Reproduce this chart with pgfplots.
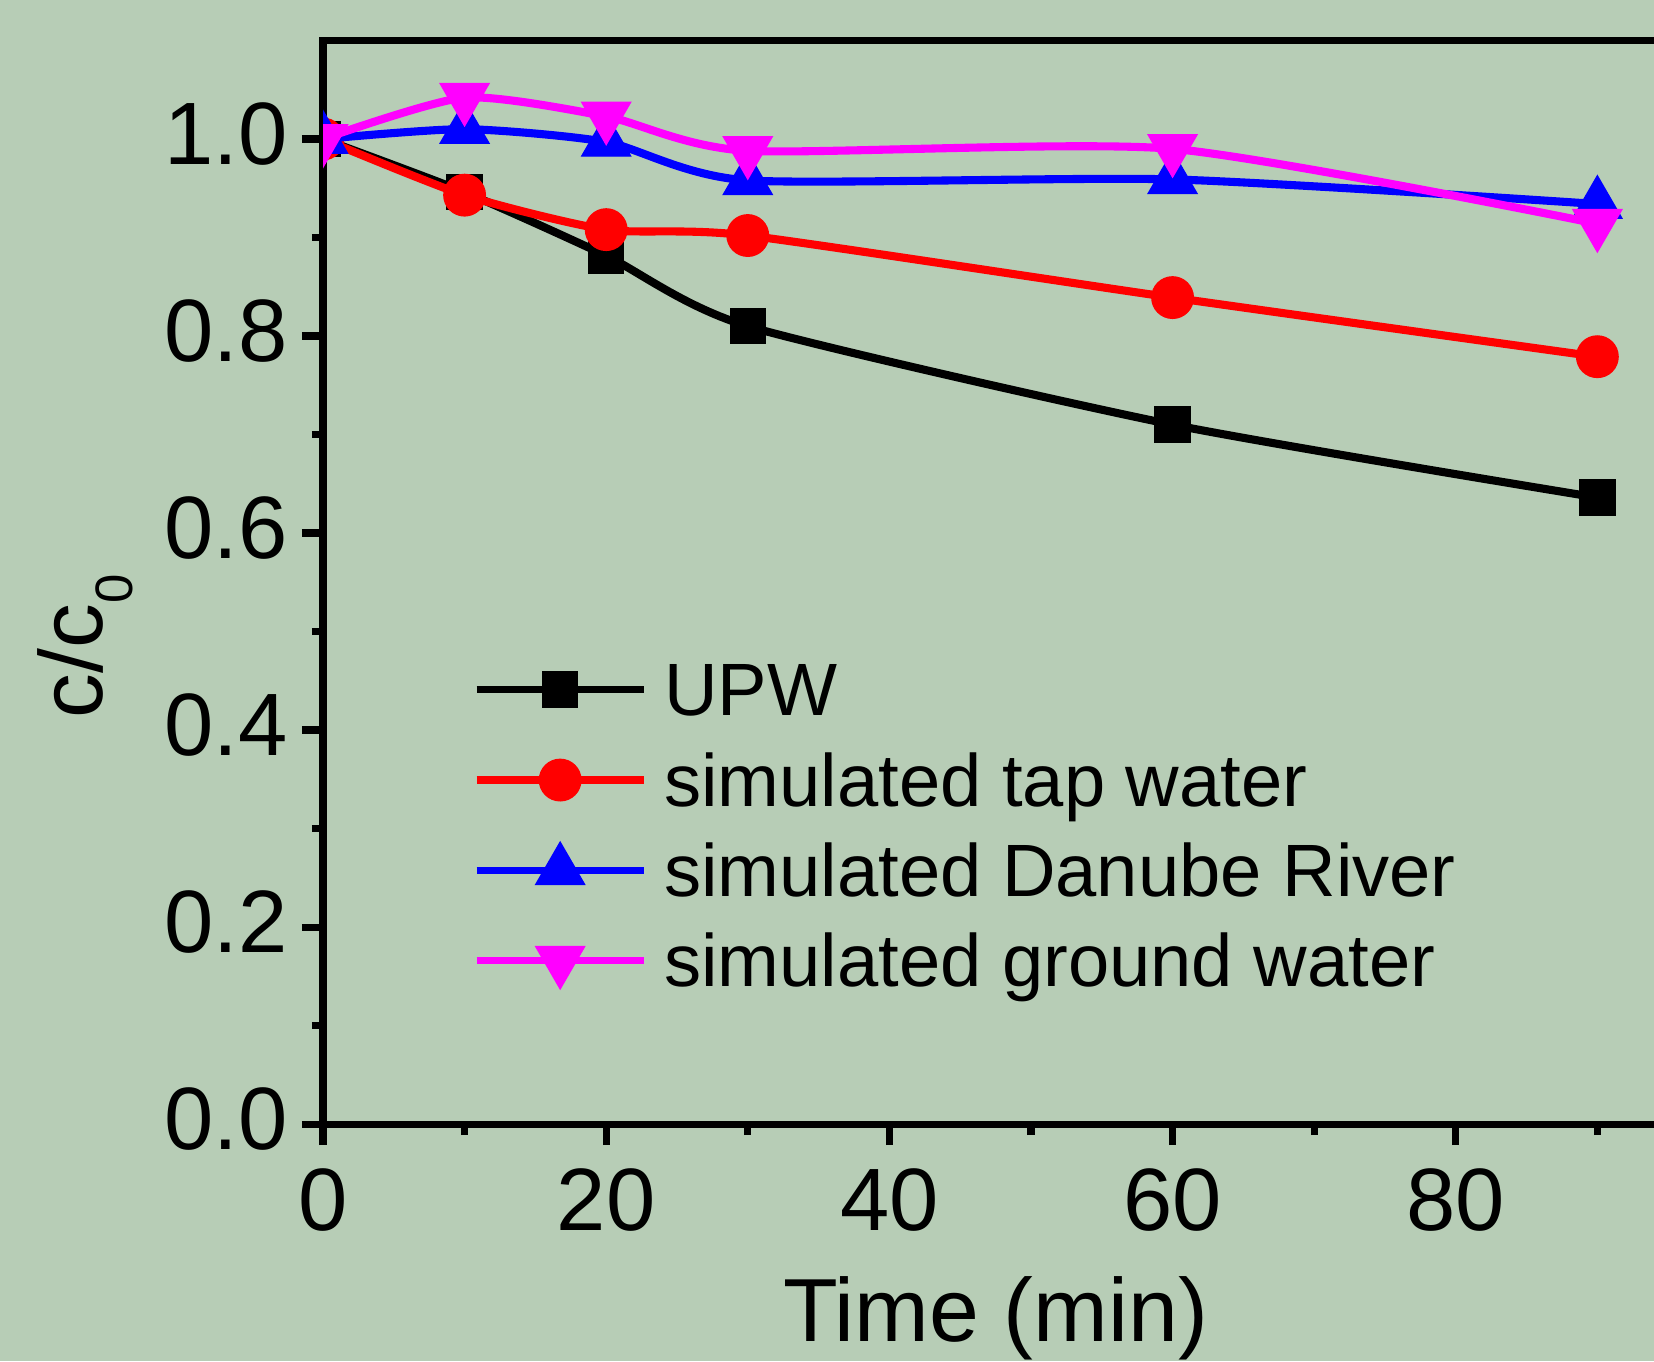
\documentclass[border=0pt]{standalone}
\usepackage{pgfplots}
\pgfplotsset{compat=1.18}
\usepackage{fontspec}
\setmainfont{Liberation Sans}
\definecolor{bg}{RGB}{183,205,182}
\definecolor{pmag}{RGB}{255,0,255}
\definecolor{pblue}{RGB}{0,0,255}
\definecolor{pred}{RGB}{255,0,0}
\begin{document}
\begin{tikzpicture}
\fill[bg] (0,0) rectangle (16.54,13.61);
\useasboundingbox (0,0) rectangle (16.54,13.61);
\clip (0,0) rectangle (16.54,13.61);
\begin{axis}[
  at={(3.23cm,2.37cm)}, anchor=south west,
  scale only axis, width=13.452cm, height=10.835cm,
  xmin=0, xmax=95, ymin=0, ymax=1.1,
  axis line style={line width=2pt},
  xtick={0,20,40,60,80}, minor xtick={10,30,50,70,90},
  ytick={0,0.2,0.4,0.6,0.8,1.0}, minor ytick={0.1,0.3,0.5,0.7,0.9},
  xtick pos=left, ytick pos=left,
  tick align=outside,
  major tick length=0.21cm, minor tick length=0.11cm,
  every tick/.style={black, line width=2pt},
  /pgf/number format/assume math mode=true,
  ticklabel style={font=\fontsize{25.2}{25.2}\selectfont},
  xticklabel style={anchor=base, yshift=-0.857cm, inner sep=0pt},
  yticklabel style={anchor=east, xshift=-0.135cm, yshift=0.05cm, inner sep=0pt,
     /pgf/number format/fixed, /pgf/number format/fixed zerofill, /pgf/number format/precision=1},
  xlabel={Time (min)},
  xlabel style={at={(axis description cs:0.5,-0.201)}, anchor=base, inner sep=0pt, font=\fontsize{25.5}{25.5}\selectfont},
  ylabel={c/c\raisebox{-8.5pt}{\fontsize{15}{15}\selectfont 0}},
  ylabel style={at={(axis description cs:-0.1636,0.441)}, anchor=base, inner sep=0pt, font=\fontsize{25.5}{25.5}\selectfont},
  clip marker paths=true,
  legend style={at={(axis description cs:0.1115,0.4275)}, anchor=north west, draw=none, fill=none,
     inner sep=0pt, outer sep=0pt, row sep=0pt, column sep=0.17cm,
     font=\fontsize{21.1}{21.1}\selectfont,
     nodes={inner sep=0pt, text height=0.55cm, text depth=0.353cm}},
  legend cell align=left,
  legend image code/.code={\draw[mark repeat=2, mark phase=2, #1, line width=2.1pt] plot coordinates {(0cm,0.162cm) (0.835cm,0.162cm) (1.67cm,0.162cm)};},
]
\addplot[black, line width=2.3pt, smooth, tension=0.4, mark=square*, mark size=5.0pt, mark options={solid, line width=0.4pt}]
  coordinates {(0,1.0) (10,0.946) (20,0.8815) (30,0.810) (60,0.710) (90,0.636)};
\addlegendentry{UPW}
\addplot[pred, line width=2.3pt, smooth, tension=0.4, mark=*, mark size=5.9pt, mark options={solid, line width=0.4pt}]
  coordinates {(0,1.0) (10,0.943) (20,0.908) (30,0.902) (60,0.839) (90,0.779)};
\addlegendentry{simulated tap water}
\addplot[pblue, line width=2.3pt, smooth, tension=0.4, mark=triangle*, mark size=8.0pt, mark options={solid, line width=0.4pt}]
  coordinates {(0,1.0) (10,1.010) (20,0.997) (30,0.958) (60,0.959) (90,0.934)};
\addlegendentry{simulated Danube River}
\addplot[pmag, line width=2.3pt, smooth, tension=0.4, mark=triangle*, mark size=8.0pt, mark options={solid, line width=0.4pt, rotate=180}]
  coordinates {(0,1.0) (10,1.042) (20,1.023) (30,0.988) (60,0.990) (90,0.914)};
\addlegendentry{simulated ground water}
\end{axis}
\end{tikzpicture}
\end{document}
